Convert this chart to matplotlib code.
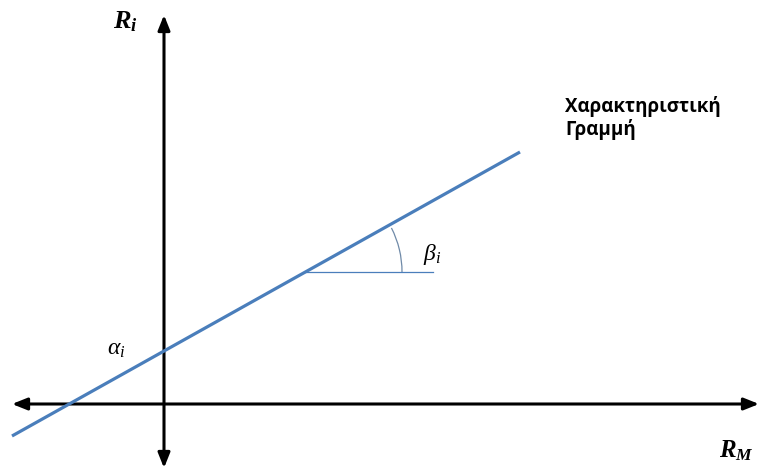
import matplotlib
matplotlib.use('Agg')
import matplotlib.pyplot as plt
from matplotlib.patches import FancyArrowPatch, Arc

plt.rcParams['mathtext.fontset'] = 'custom'
plt.rcParams['mathtext.rm'] = 'Liberation Serif'
plt.rcParams['mathtext.it'] = 'Liberation Serif:italic'
plt.rcParams['mathtext.bf'] = 'Liberation Serif:bold:italic'

# coordinates with origin where the two axes cross
x_axis = [-152, 595]       # horizontal axis (R_M) ends
y_axis = [-64, 389]        # vertical axis (R_i) ends
line_x = [-152, 356]       # characteristic line
line_y = [-32, 252]
alpha_y = 53               # intercept on the R_i axis
ref_x = [141, 269]         # horizontal reference for the slope angle
ref_y = 132
arc_r = 97
arc_deg = 27

labels = {
    'ri': r'$\mathbf{R_i}$',
    'rm': r'$\mathbf{R_M}$',
    'alpha': r'$\alpha_i$',
    'beta': r'$\beta_i$',
    'line': 'Χαρακτηριστική\nΓραμμή',
}

fig = plt.figure(figsize=(7.59, 4.69), dpi=100)
ax = fig.add_axes([0, 0, 1, 1])
ax.set_xlim(-164, 595)
ax.set_ylim(-65, 404)
ax.axis('off')

arrow_style = '<|-|>,head_length=9,head_width=3.6'
ax.add_patch(FancyArrowPatch((x_axis[0], 0), (x_axis[1], 0), arrowstyle=arrow_style,
                             mutation_scale=1, lw=2.2, color='black', shrinkA=0, shrinkB=0))
ax.add_patch(FancyArrowPatch((0, y_axis[0]), (0, y_axis[1]), arrowstyle=arrow_style,
                             mutation_scale=1, lw=2.2, color='black', shrinkA=0, shrinkB=0))

ax.plot(line_x, line_y, color='#4a7ebb', lw=2.3, solid_capstyle='butt', zorder=3)
ax.plot(ref_x, [ref_y, ref_y], color='#4a7ebb', lw=0.9)
ax.add_patch(Arc((ref_x[0], ref_y), 2 * arc_r, 2 * arc_r, theta1=0, theta2=arc_deg,
                 color='#6f8aa8', lw=0.9))

ax.text(-51, 376, labels['ri'], fontsize=19, ha='left', va='baseline')
ax.text(555, -53, labels['rm'], fontsize=18, ha='left', va='baseline')
ax.text(-57, 49, labels['alpha'], fontsize=17, ha='left', va='baseline')
ax.text(259, 144, labels['beta'], fontsize=17, ha='left', va='baseline')
ax.text(401, 269, labels['line'], fontsize=13.5, fontweight='bold', family='Open Sans',
        ha='left', va='baseline', linespacing=1.12)

fig.savefig('out.png', dpi=100)
